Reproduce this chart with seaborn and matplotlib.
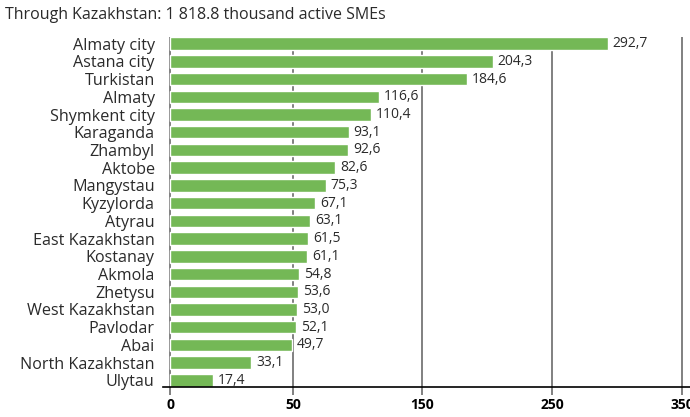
import numpy as np
import pandas as pd
import matplotlib
matplotlib.use("Agg")
import matplotlib.pyplot as plt
import seaborn as sns

# Active SMEs by region, thousand units
regions = [
    "Almaty city", "Astana city", "Turkistan", "Almaty", "Shymkent city",
    "Karaganda", "Zhambyl", "Aktobe", "Mangystau", "Kyzylorda", "Atyrau",
    "East Kazakhstan", "Kostanay", "Akmola", "Zhetysu", "West Kazakhstan",
    "Pavlodar", "Abai", "North Kazakhstan", "Ulytau",
]
values = [
    292.7, 204.3, 184.6, 116.6, 110.4, 93.1, 92.6, 82.6, 75.3, 67.1, 63.1,
    61.5, 61.1, 54.8, 53.6, 53.0, 52.1, 49.7, 33.1, 17.4,
]
tick_values = [0, 50, 150, 250, 350]
title = "Through Kazakhstan: 1 818.8 thousand active SMEs"

df = pd.DataFrame({"region": regions, "value": values})

GREEN = "#74b856"
GRID = "#808080"
TEXT = "#2a2a2a"

sns.set_theme(style="white")
plt.rcParams["font.family"] = ["Open Sans", "DejaVu Sans"]

# Broken-step axis: the first 50 units get nearly the same width as each
# following 100-unit step.
_v = np.array([-50, 0, 50, 150, 250, 350, 450], dtype=float)
_p = np.array([-123, 0, 123, 252, 382, 512, 642], dtype=float)


def fwd(x):
    return np.interp(x, _v, _p)


def inv(y):
    return np.interp(y, _p, _v)


fig = plt.figure(figsize=(6.9, 4.17), dpi=100)
ax = fig.add_axes([163 / 690, 1 - 387 / 417, 1 - 163 / 690, 350 / 417])

sns.barplot(data=df, x="value", y="region", orient="h", color=GREEN,
            saturation=1, width=0.7, ax=ax, zorder=3)
ax.set_xscale("function", functions=(fwd, inv))
ax.set_xlim(-2.85, 356)
ax.set_ylim(len(regions) - 1 + 0.375, -0.375)

# vertical grid lines
for t in tick_values:
    ax.axvline(t, color=GRID, lw=1.4, zorder=2)

# value labels
for i, v in enumerate(values):
    ax.annotate(f"{v:.1f}".replace(".", ","), xy=(v, i), xytext=(3.5, 0),
                textcoords="offset points", va="center", ha="left",
                fontsize=10, color=TEXT, zorder=1)

ax.set_xticks(tick_values)
ax.set_xticklabels([str(t) for t in tick_values], fontweight="bold",
                   fontsize=10, color="black")
ax.tick_params(axis="x", length=6, width=1.4, color=GRID, pad=2,
               bottom=True)
ax.tick_params(axis="y", length=0, pad=6, labelsize=11.6, labelcolor=TEXT)
ax.set_xlabel("")
ax.set_ylabel("")

for s in ("top", "right", "left"):
    ax.spines[s].set_visible(False)
ax.spines["bottom"].set_color("black")
ax.spines["bottom"].set_linewidth(1.2)
ax.spines["bottom"].set_zorder(4)

fig.text(5 / 690, 1 - 15 / 417, title, ha="left", va="center",
         fontsize=11.5, color=TEXT)

fig.savefig("out.png", dpi=100)
